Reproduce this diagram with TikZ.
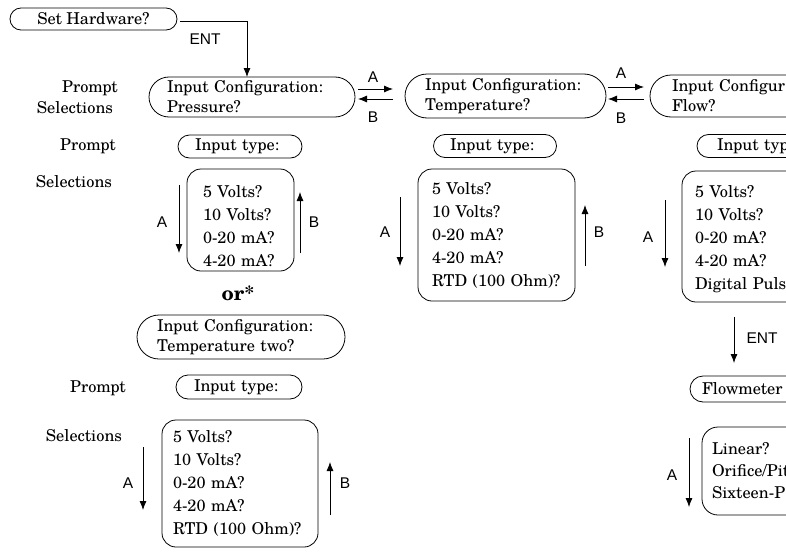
\documentclass[tikz,border=0pt]{standalone}
\usepackage{fontspec}
\setmainfont{texgyreschola-regular.otf}[BoldFont=texgyreschola-bold.otf]
\newfontfamily\labfont{Liberation Sans}
\usetikzlibrary{arrows.meta}
\begin{document}
\begin{tikzpicture}[x=1pt,y=-1pt,
  every node/.style={inner sep=0pt, outer sep=0pt},
  sf/.style={font=\fontsize{16.3}{20}\selectfont},
  stad/.style={draw, line width=0.8pt, rectangle, sf, align=left},
  selbox/.style={draw, line width=0.8pt, rectangle, rounded corners=14pt, align=left, font=\fontsize{16.3}{23}\selectfont},
  lab/.style={font=\labfont\fontsize{15.5}{18}\selectfont},
  arr/.style={line width=0.8pt, -{Latex[length=9pt,width=7pt]}},
]
\useasboundingbox (0,0) rectangle (786,551);
\clip (0,0) rectangle (786,551);

% row labels
\node[sf] (p1) at (90,88) {Prompt};
\node[sf] (s1) at (75,108) {Selections};
\node[sf] (p2) at (88,146) {Prompt};
\node[sf] (s2) at (74,182) {Selections};
\node[sf] (p3) at (98,388) {Prompt};
\node[sf] (s3) at (84,436) {Selections};

% top
\node[stad, align=center, rounded corners=11pt, minimum width=167pt, minimum height=22pt] (sethw) at (93.5,19) {Set Hardware?};

\node[stad, rounded corners=20pt, text width=170pt, inner xsep=18pt, minimum height=40pt] (press) at (252,97) {Input Configuration:\\Pressure?};
\node[stad, rounded corners=22pt, text width=161pt, inner xsep=20pt, minimum height=44pt] (temp) at (505.5,96) {Input Configuration:\\Temperature?};
\node[stad, rounded corners=21pt, text width=180pt, inner xsep=22pt, minimum height=42pt] (flow) at (762,96) {Input Configur\\Flow?};

\draw[arr] ([shift={(3pt,-2.5pt)}]sethw.east) -| ([xshift=-5pt]press.north);
\node[lab] (ent1) at (205,39) {ENT};

\draw[arr] ([shift={(3pt,8pt)}]press.east) -- ([shift={(-12pt,7pt)}]temp.west);
\draw[arr] ([shift={(-12pt,-3pt)}]temp.west) -- ([shift={(3pt,-2pt)}]press.east);
\node[lab] (a1) at (373,77) {A};
\node[lab] (b1) at (373,117) {B};
\draw[arr] ([shift={(2pt,9pt)}]temp.east) -- ([shift={(-6pt,9pt)}]flow.west);
\draw[arr] ([shift={(-6pt,-3pt)}]flow.west) -- ([shift={(2pt,-3pt)}]temp.east);
\node[lab] (a2) at (621,73) {A};
\node[lab] (b2) at (621,118) {B};

% input type prompts
\node[stad, rounded corners=11.5pt, text width=90pt, inner xsep=17pt, minimum height=23pt] (pin) at (240,146.5) {Input type:};
\node[stad, rounded corners=11.5pt, text width=90pt, inner xsep=16.5pt, minimum height=23pt] (tin) at (495,146) {Input type:};
\node[stad, rounded corners=11.5pt, text width=90pt, inner xsep=20pt, minimum height=23pt] (fin) at (762,146) {Input typ};

% selection boxes
\node[selbox, text width=75pt, inner xsep=16pt, minimum height=102pt] (psel) at (240.5,220) {\rule{0pt}{24pt}5 Volts?\\10 Volts?\\0-20 mA?\\4-20 mA?};
\node[selbox, text width=129pt, inner xsep=14pt, minimum height=132pt] (tsel) at (496.5,235) {5 Volts?\\10 Volts?\\0-20 mA?\\4-20 mA?\\RTD (100 Ohm)?};
\node[selbox, text width=140pt, inner xsep=13pt, minimum height=131pt] (fsel) at (765,236.5) {\rule{0pt}{17pt}5 Volts?\\10 Volts?\\0-20 mA?\\4-20 mA?\\Digital Puls};

% side arrows
\coordinate (pA1) at (179,185); \coordinate (pA2) at (179,253);
\draw[arr] (pA1) -- (pA2);
\node[lab] (pAl) at (162,222) {A};
\coordinate (pB1) at (300,253); \coordinate (pB2) at (300,192);
\draw[arr] (pB1) -- (pB2);
\node[lab] (pBl) at (314,222) {B};

\coordinate (tA1) at (400,197); \coordinate (tA2) at (400,266);
\draw[arr] (tA1) -- (tA2);
\node[lab] (tAl) at (385,232) {A};
\coordinate (tB1) at (585,266); \coordinate (tB2) at (585,205);
\draw[arr] (tB1) -- (tB2);
\node[lab] (tBl) at (599,232) {B};

\coordinate (fA1) at (665,200); \coordinate (fA2) at (665,267);
\draw[arr] (fA1) -- (fA2);
\node[lab] (fAl) at (648,237) {A};

% or*
\node[font=\bfseries\fontsize{20}{24}\selectfont] (or) at (238,293) {or*};

% temperature two
\node[stad, rounded corners=22pt, text width=168pt, inner xsep=20pt, minimum height=44pt] (temp2) at (241,337) {Input Configuration:\\Temperature two?};
\node[stad, rounded corners=12pt, text width=90pt, inner xsep=18pt, minimum height=24pt] (lin) at (239,387) {Input type:};
\node[selbox, text width=134pt, inner xsep=11pt, minimum height=127pt] (lsel) at (240,483.5) {5 Volts?\\10 Volts?\\0-20 mA?\\4-20 mA?\\RTD (100 Ohm)?};
\coordinate (lA1) at (143,447); \coordinate (lA2) at (143,510);
\draw[arr] (lA1) -- (lA2);
\node[lab] (lAl) at (128,483) {A};
\coordinate (lB1) at (330,515); \coordinate (lB2) at (330,462);
\draw[arr] (lB1) -- (lB2);
\node[lab] (lBl) at (345,483) {B};

% flowmeter
\node[stad, rounded corners=13pt, text width=130pt, inner xsep=12pt, minimum height=26pt] (fmeter) at (767,389) {Flowmeter};
\draw[arr] ([shift={(-31pt,-15pt)}]fsel.south) -- ([shift={(-33pt,13pt)}]fmeter.north);
\node[lab] (ent2) at (762,338) {ENT};
\node[selbox, rounded corners=16pt, text width=120pt, inner xsep=10pt, minimum height=88pt, font=\fontsize{16.3}{22}\selectfont] (fmsel) at (772,471) {Linear?\\Orifice/Pit\\Sixteen-P};
\coordinate (mA1) at (689,438); \coordinate (mA2) at (689,507);
\draw[arr] (mA1) -- (mA2);
\node[lab] (mAl) at (672,475) {A};
\end{tikzpicture}
\end{document}
